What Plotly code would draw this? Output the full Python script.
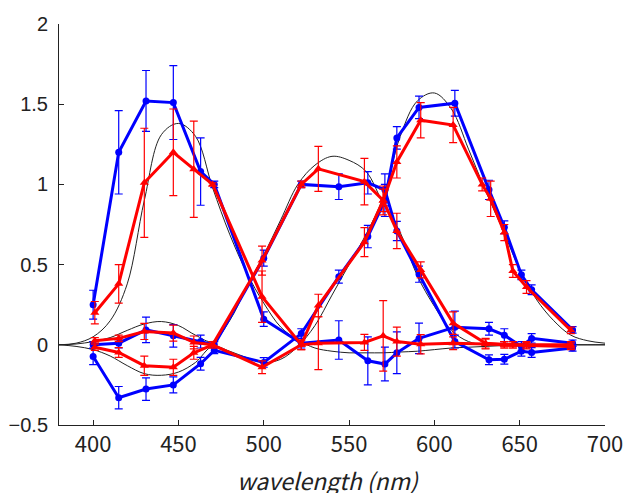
import plotly.graph_objects as go

# ---- black fitted curves (sampled every 10 nm) ----
fit_x = [380, 390, 400, 410, 420, 430, 440, 450, 460, 470, 480, 490, 500, 510, 520, 530, 540,
         550, 560, 570, 580, 590, 600, 610, 620, 630, 640, 650, 660, 670, 680, 690, 700]
fit_s = [0.0, 0.01, 0.05, 0.15, 0.38, 0.90, 1.31, 1.38, 1.30, 0.98, 0.69, 0.45, 0.26, 0.11, 0.03, -0.02, -0.04,
         -0.05, -0.05, -0.05, -0.045, -0.04, -0.03, -0.02, -0.015, -0.01, -0.005, 0.0, 0.0, 0.0, 0.0, 0.0, 0.0]
fit_m = [0.0, 0.005, 0.02, 0.045, 0.09, 0.13, 0.145, 0.12, 0.06, 0.02, 0.15, 0.36, 0.56, 0.78, 1.0, 1.12, 1.175,
         1.15, 1.08, 0.88, 0.70, 0.43, 0.24, 0.09, 0.02, 0.0, 0.0, 0.0, 0.0, 0.0, 0.0, 0.0, 0.0]
fit_l = [0.0, -0.01, -0.03, -0.07, -0.13, -0.18, -0.19, -0.17, -0.11, -0.01, -0.04, -0.08, -0.11, -0.09, -0.01, 0.12, 0.31,
         0.50, 0.69, 0.92, 1.30, 1.52, 1.57, 1.47, 1.22, 0.96, 0.72, 0.47, 0.28, 0.15, 0.06, 0.025, 0.01]

# ---- blue data (circles) ----
blue_x = [400, 415, 431, 447, 463, 471, 500, 522, 544, 561, 571, 578, 591, 612, 632, 641, 651, 657, 681]
blue_s = [0.25, 1.20, 1.52, 1.51, 1.08, 1.00, 0.16, 0.01, 0.03, -0.10, -0.12, -0.05, 0.04, 0.11, 0.10, 0.06, -0.01, 0.04, 0.01]
blue_s_err = [0.09, 0.26, 0.19, 0.23, 0.21, 0.02, 0.045, 0.03, 0.12, 0.15, 0.105, 0.13, 0.095, 0.10, 0.04, 0.04, 0.03, 0.03, 0.02]
blue_m = [0.0, 0.01, 0.093, 0.056, 0.02, 0.0, 0.54, 1.0, 0.986, 1.01, 0.966, 0.71, 0.44, 0.02, -0.093, -0.09, -0.04, -0.048, -0.02]
blue_m_err = [0.02, 0.03, 0.08, 0.07, 0.04, 0.02, 0.05, 0.02, 0.08, 0.07, 0.10, 0.06, 0.05, 0.04, 0.03, 0.03, 0.03, 0.03, 0.02]
blue_l = [-0.073, -0.33, -0.276, -0.25, -0.118, -0.035, -0.11, 0.07, 0.425, 0.675, 0.90, 1.29, 1.48, 1.506, 0.966, 0.733, 0.436, 0.343, 0.093]
blue_l_err = [0.05, 0.07, 0.07, 0.05, 0.04, 0.02, 0.03, 0.03, 0.04, 0.07, 0.10, 0.07, 0.07, 0.08, 0.06, 0.04, 0.03, 0.03, 0.02]

# ---- red data (triangles) ----
red_x = [401, 415, 430, 447, 459, 470, 499, 522, 532, 559, 570, 578, 592, 611, 630, 641, 646, 654, 680]
red_s = [0.20, 0.38, 1.01, 1.20, 1.095, 1.0, 0.30, 0.0, 0.01, 0.015, 0.056, 0.02, 0.004, 0.01, 0.005, 0.0, 0.0, 0.0, 0.0]
red_s_err = [0.07, 0.12, 0.34, 0.27, 0.30, 0.01, 0.16, 0.03, 0.165, 0.05, 0.22, 0.09, 0.06, 0.04, 0.03, 0.02, 0.02, 0.02, 0.02]
red_m = [0.025, 0.04, 0.083, 0.073, 0.015, 0.0, 0.525, 1.0, 1.097, 1.017, 0.90, 0.71, 0.467, 0.135, 0.01, 0.0, 0.0, -0.005, -0.01]
red_m_err = [0.02, 0.02, 0.05, 0.05, 0.04, 0.02, 0.09, 0.02, 0.14, 0.145, 0.09, 0.11, 0.05, 0.07, 0.03, 0.02, 0.02, 0.02, 0.02]
red_l_x = [401, 415, 430, 447, 459, 470, 499, 522, 532, 559, 570, 578, 592, 611, 628, 633, 641, 646, 654, 680]
red_l = [-0.015, -0.048, -0.13, -0.14, -0.05, 0.0, -0.14, 0.0, 0.245, 0.64, 0.90, 1.14, 1.40, 1.37, 1.0, 0.91, 0.70, 0.46, 0.36, 0.09]
red_l_err = [0.02, 0.03, 0.06, 0.05, 0.04, 0.02, 0.04, 0.03, 0.07, 0.09, 0.07, 0.10, 0.11, 0.11, 0.04, 0.11, 0.05, 0.04, 0.04, 0.02]

x_ticks = [400, 450, 500, 550, 600, 650, 700]
y_ticks = [-0.5, 0, 0.5, 1, 1.5, 2]
x_title = "wavelength (nm)"

fig = go.Figure()

for fy in (fit_s, fit_m, fit_l):
    fig.add_trace(go.Scatter(x=fit_x, y=fy, mode="lines",
                             line=dict(color="#222222", width=1, shape="spline", smoothing=1.0),
                             hoverinfo="skip", showlegend=False))

BLUE = "#0000ff"
RED = "#ff0000"

for ys, es in ((blue_s, blue_s_err), (blue_m, blue_m_err), (blue_l, blue_l_err)):
    fig.add_trace(go.Scatter(x=blue_x, y=ys, mode="lines+markers",
                             line=dict(color=BLUE, width=3),
                             marker=dict(symbol="circle", size=7, color=BLUE),
                             error_y=dict(type="data", array=es, color=BLUE, thickness=1.2, width=4),
                             showlegend=False))

for xs, ys, es in ((red_x, red_s, red_s_err), (red_x, red_m, red_m_err), (red_l_x, red_l, red_l_err)):
    fig.add_trace(go.Scatter(x=xs, y=ys, mode="lines+markers",
                             line=dict(color=RED, width=3),
                             marker=dict(symbol="triangle-up", size=8, color=RED),
                             error_y=dict(type="data", array=es, color=RED, thickness=1.2, width=4),
                             showlegend=False))

fig.update_layout(
    width=625, height=493,
    margin=dict(l=59, r=20, t=24, b=68),
    paper_bgcolor="white", plot_bgcolor="white",
    font=dict(family="Liberation Sans, Arial, sans-serif", size=19, color="#222222"),
    xaxis=dict(range=[380, 700], tickvals=x_ticks, ticks="inside", ticklen=5,
               tickcolor="#222222", showline=True, linecolor="#222222", linewidth=1,
               showgrid=False, zeroline=False, automargin=False,
               tickfont=dict(family="Noto Sans CJK JP", size=22)),
    yaxis=dict(range=[-0.5, 2], tickvals=y_ticks, ticks="inside", ticklen=5,
               tickcolor="#222222", showline=True, linecolor="#222222", linewidth=1,
               showgrid=False, zeroline=False, automargin=False, ticklabelstandoff=6,
               tickfont=dict(family="Liberation Sans, Arial", size=20)),
    annotations=[dict(text="<i>" + x_title + "</i>", xref="paper", yref="paper",
                      x=0.492, y=-0.137, xanchor="center", yanchor="middle", showarrow=False,
                      font=dict(family="Noto Sans CJK JP", size=23, color="#222222"))],
)

# remove the default 8px page margin so the 625x493 figure fills the window exactly
fig.write_html("out.html", config={"displayModeBar": False},
               post_script="document.body.style.margin='0';")
